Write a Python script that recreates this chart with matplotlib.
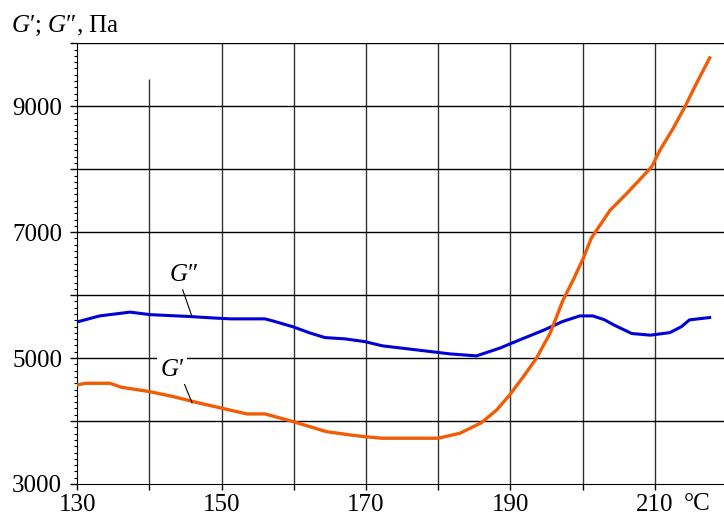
import numpy as np
import matplotlib
matplotlib.use("Agg")
import matplotlib.pyplot as plt
from matplotlib.ticker import MultipleLocator

plt.rcParams['font.family'] = ['Liberation Serif', 'DejaVu Serif']
plt.rcParams['mathtext.fontset'] = 'custom'
plt.rcParams['mathtext.rm'] = 'Liberation Serif'
plt.rcParams['mathtext.it'] = 'Liberation Serif:italic'

# G'' (loss modulus)
temp_g2 = [130.0, 133.1, 137.3, 140.1, 145.6, 148.4, 151.2, 156.0, 157.4, 159.9,
           162.2, 164.3, 167.1, 169.8, 172.3, 177.0, 181.6, 185.3, 188.5, 191.3,
           194.7, 197.2, 199.6, 201.4, 203.0, 204.3, 206.8, 209.4, 212.1, 213.7,
           214.8, 217.6]
g2 = [5575, 5670, 5730, 5690, 5660, 5640, 5623, 5623, 5580, 5496,
      5400, 5326, 5305, 5262, 5194, 5130, 5067, 5035, 5157, 5290,
      5448, 5580, 5670, 5670, 5610, 5528, 5390, 5364, 5405, 5500,
      5607, 5644]

# G' (storage modulus)
temp_g1 = [130.0, 131.1, 134.5, 136.1, 140.0, 143.3, 147.0, 150.0, 153.5, 156.0,
           159.9, 164.5, 167.8, 169.8, 172.2, 180.0, 183.0, 186.0, 188.1, 189.9,
           191.8, 193.6, 195.5, 197.3, 198.7, 200.1, 201.2, 203.8, 206.1, 207.9,
           209.6, 210.7, 212.5, 214.2, 215.8, 217.6]
g1 = [4574, 4600, 4600, 4537, 4468, 4388, 4283, 4204, 4113, 4113,
      3991, 3832, 3779, 3752, 3727, 3727, 3806, 3975, 4177, 4415,
      4706, 4998, 5396, 5925, 6243, 6588, 6905, 7348, 7613, 7833,
      8044, 8300, 8640, 8998, 9370, 9768]

x_ticks = list(range(130, 211, 10))
x_labels = [str(v) if (v - 130) % 20 == 0 else '' for v in x_ticks]
y_ticks = list(range(3000, 10001, 1000))
y_labels = [str(v) if (v // 1000) % 2 == 1 else '' for v in y_ticks]

fig = plt.figure(figsize=(7.24, 5.16), dpi=100)
ax = fig.add_axes([77.3 / 724, 1 - 484 / 516, (727 - 77.3) / 724, (484 - 43.3) / 516])
ax.set_xlim(130, 220)
ax.set_ylim(3000, 10000)

# grid
for x in range(140, 220, 10):
    top = 9440 if x == 140 else 10000
    ax.vlines(x, 3000, top, color='#333333', lw=1.0, zorder=1)
for y in range(4000, 10001, 1000):
    ax.hlines(y, 130, 220, color='black', lw=1.0, zorder=1)

ax.plot(temp_g2, g2, color='#0000d8', lw=2.2, zorder=3)
ax.plot(temp_g1, g1, color='#f25c05', lw=2.4, zorder=3)

# curve labels
ax.text(144.7, 6323, "$G$″", ha='center', va='center', fontsize=18, zorder=5)
ax.plot([144.6, 145.9], [6084, 5655], color='black', lw=0.8, zorder=4)
ax.text(143.1, 4812, "$G$′", ha='center', va='center', fontsize=18, zorder=5,
        bbox=dict(facecolor='white', edgecolor='none', pad=2))
ax.plot([144.6, 145.9], [4653, 4288], color='black', lw=0.8, zorder=4)

ax.spines['top'].set_visible(False)
ax.spines['right'].set_visible(False)
ax.set_xticks(x_ticks)
ax.set_xticklabels(x_labels)
ax.set_yticks(y_ticks)
ax.set_yticklabels(y_labels)
ax.yaxis.set_minor_locator(MultipleLocator(100))
ax.tick_params(axis='x', direction='out', length=4, width=1, labelsize=18, pad=3)
ax.tick_params(axis='y', which='major', direction='out', length=5, width=1, labelsize=18, pad=6)
ax.tick_params(axis='y', which='minor', direction='out', length=2, width=0.8)

ax.annotate('°C', xy=(215.9, 3000), xytext=(0, -6.5), textcoords='offset points',
            ha='center', va='top', fontsize=18, annotation_clip=False)
fig.text(11 / 724, 1 - 32 / 516, "$G$′; $G$″, Па", fontsize=18, ha='left', va='baseline')

plt.savefig("out.png", dpi=100)
plt.close()
